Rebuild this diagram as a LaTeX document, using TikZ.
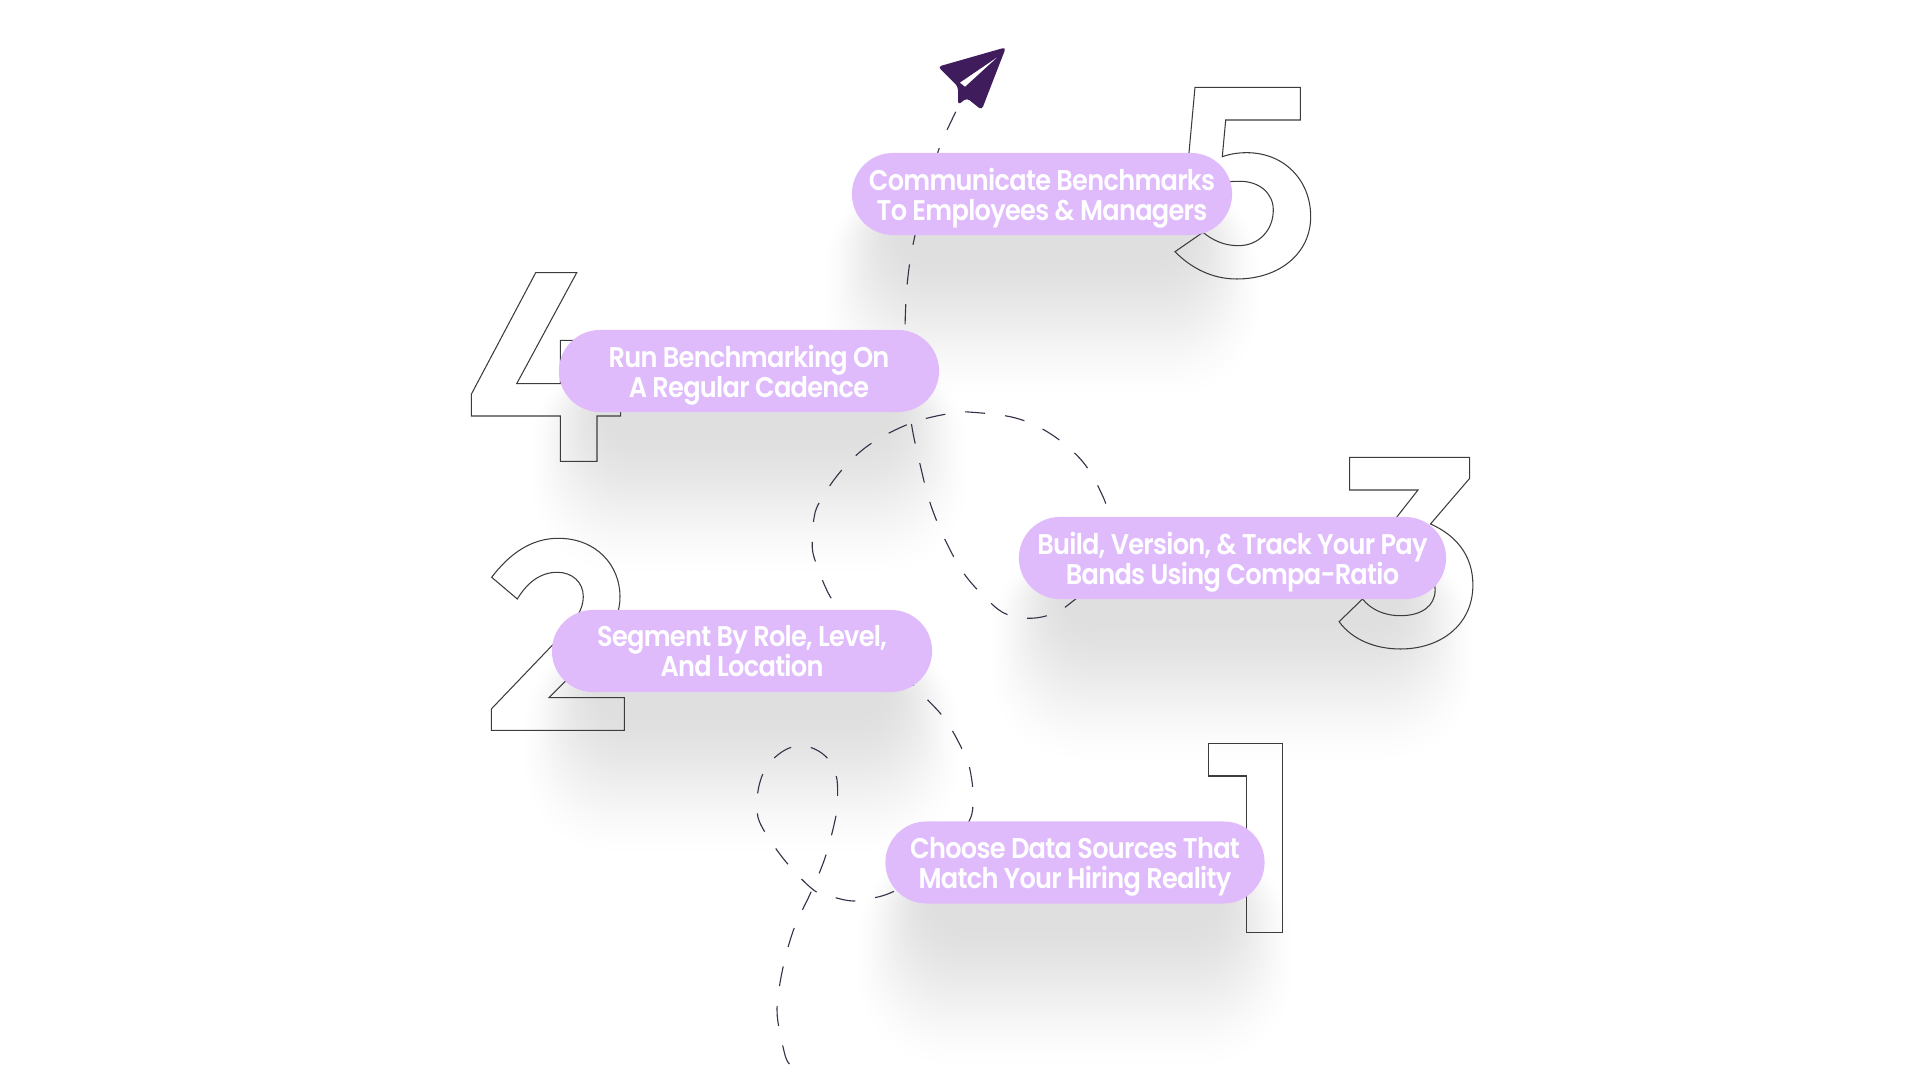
\documentclass[tikz,border=0pt]{standalone}
\usepackage{fontspec}
\setmainfont{Poppins}[UprightFont={* SemiBold},FakeStretch=.9,LetterSpace=-2.5]
\usetikzlibrary{calc}
\pgfdeclarelayer{back}
\pgfsetlayers{back,main}
\definecolor{pillfill}{HTML}{E0BBFC}
\definecolor{planefill}{HTML}{3F1D5C}
\definecolor{trailcolor}{HTML}{3A3048}
\definecolor{digitline}{HTML}{3C3C3C}
\newcommand{\pillfont}{\fontsize{8.1}{8.54}\selectfont\lineskiplimit=-5pt\relax}
\tikzset{
    pill/.style={fill=pillfill,text=white,rounded corners=.41cm,minimum height=.82cm,inner sep=0pt,align=center,font=\pillfont},
    digit/.style={draw=digitline,line width=.3pt,line join=miter},
    trail/.style={draw=trailcolor,line width=.32pt,dash pattern=on .2cm off .2cm}
}
\newcommand{\lastline}[1]{\raisebox{0pt}[\height][0pt]{#1}}
\newcommand{\pillshadow}[1]{
    \foreach \i in {1,...,32} {
        \pgfmathsetmacro{\t}{\i/33}
        \pgfmathsetmacro{\e}{.5-sin(asin(1-2*\t)/3)}
        \pgfmathsetmacro{\r}{.95-.65*\e}
        \fill[black,opacity=.004,rounded corners=\r cm]
            ($(#1.north west)+(-36+90*\e,26+20*\e)$) rectangle ($(#1.south east)+(36-90*\e,175-165*\e)$);
    }
}
\begin{document}
\begin{tikzpicture}[x=.01cm,y=-.01cm]
    \useasboundingbox (0,0) rectangle (1920,1080);
    \node[pill,minimum width=3.8cm]  (communicate) at (1042,194) {Communicate Benchmarks\\\lastline{To Employees \& Managers}};
    \node[pill,minimum width=3.8cm]  (cadence)     at (749,371)  {Run Benchmarking On\\\lastline{A Regular Cadence}};
    \node[pill,minimum width=4.27cm] (bands)       at (1232.5,558) {Build, Version, \& Track Your Pay\\\lastline{Bands Using Compa-Ratio}};
    \node[pill,minimum width=3.8cm]  (segment)     at (742,651)  {Segment By Role, Level,\\\lastline{And Location}};
    \node[pill,minimum width=3.79cm] (sources)     at (1075,862.5) {Choose Data Sources That\\\lastline{Match Your Hiring Reality}};
    \coordinate (start) at (789.5,1064);
    \coordinate (tail)  at (960,103);
    \begin{pgfonlayer}{back}
        \pillshadow{communicate}
        \pillshadow{cadence}
        \pillshadow{bands}
        \pillshadow{segment}
        \pillshadow{sources}
        \draw[digit,xshift=-.025cm] (1211.3,743.7) -- (1285.2,743.7) -- (1285.2,932.3) -- (1249,932.3) -- (1249,776) -- (1211.3,776) -- cycle;
        \draw[digit] (491.7,577.3) .. controls (510,553) and (532,538.3) .. (558.3,538.3) .. controls (596,538.3) and (620,565) .. (620,596.7) .. controls (620,625) and (600,647) .. (565.7,681) -- (549,697.7) -- (624.3,697.7) -- (624.3,730.3) -- (491.3,730.3) -- (491.3,709) -- (565,632) .. controls (575,620) and (583.3,610) .. (583.3,596.7) .. controls (583.3,582) and (572,572.3) .. (557.3,572.3) .. controls (540,572.3) and (527,583) .. (517.3,599) -- cycle;
        \draw[digit,xshift=-.025cm] (1352.2,457.3) -- (1472.2,457.3) -- (1472.2,478.3) -- (1433,524) .. controls (1458,535) and (1475.4,555) .. (1475.4,585) .. controls (1475.4,625) and (1443,649) .. (1403,649) .. controls (1378,649) and (1355,640) .. (1341.6,621.7) -- (1365,599) .. controls (1373,609) and (1386,615.7) .. (1403,615.7) .. controls (1424,615.7) and (1437.6,606) .. (1437.6,590) .. controls (1437.6,570) and (1420,558) .. (1395,558) -- (1375,548) -- (1420.5,490) -- (1352.2,490) -- cycle;
        \draw[digit] (535.7,272.7) -- (576.7,272.7) -- (516.7,383.7) -- (560.3,383.7) -- (560.3,340.3) -- (597,340.3) -- (597,383.7) -- (620.7,383.7) -- (620.7,416) -- (597,416) -- (597,461.3) -- (560.3,461.3) -- (560.3,416) -- (471.3,416) -- (471.3,394.3) -- cycle;
        \draw[digit] (1195,87.3) -- (1300.3,87.3) -- (1300.3,120) -- (1225.7,120) -- (1222.3,156.7) .. controls (1230,154) and (1238,152.7) .. (1246.7,152.7) .. controls (1284,152.7) and (1310.7,180) .. (1310.7,216.7) .. controls (1310.7,253) and (1280,279) .. (1236.7,279) .. controls (1212,279) and (1191,268) .. (1175,251.7) -- (1203,232.3) .. controls (1212,240) and (1224,245.7) .. (1238.3,245.7) .. controls (1259,245.7) and (1273.3,230) .. (1273.3,210) .. controls (1273.3,193) and (1259,181.3) .. (1240,181.3) .. controls (1220,181.3) and (1200,186) .. (1185,196) -- cycle;
        \draw[trail] plot[smooth,tension=.6] coordinates {(start) (785,1055) (777.7,1020) (778,997) (784,963) (794.6,927) (810.7,892.7) (825.4,856.7) (836,815.7) (837.6,796) (836,775) (826,756.7) (808,746.7) (788.5,748.3) (769.4,763) (759.7,783) (757,808) (762,827) (785,860.7) (813.6,890) (833,897) (853,901) (873.5,898) (892.5,892) (925,875) (950,850) (969.7,820) (973,800) (971.5,778) (965.7,757) (946,720.7) (920,692) (880,650) (840,608) (827.7,592) (814,557) (812.3,539) (813.7,520) (819.2,502.7) (841,471) (870,444.3) (910.6,423.3) (950.7,413.3) (972.4,412.3) (1016.7,418.3) (1052.3,435) (1083.2,462.3) (1103,496.7) (1107.6,515.7) (1108,545) (1095,580) (1069.3,604) (1052.3,614) (1031.5,618.3) (1010.7,615.7) (993.7,605.7) (965.5,575.7) (945.2,540) (930,502.7) (919.8,463.3) (911.5,424.3) (906,375) (905,330) (907.3,283) (913.3,243.3) (925,195) (940,146) (948.3,127.3) (tail)};
    \end{pgfonlayer}
    \fill[planefill,rounded corners=1pt] (1006,47.3) -- (938,66.7) -- (958,86.5) -- (958,105) -- (966.7,98) -- (981.7,110) -- cycle;
    \fill[white] (996.7,57.7) -- (960,82.7) -- (965,86.7) -- cycle;
\end{tikzpicture}
\end{document}
